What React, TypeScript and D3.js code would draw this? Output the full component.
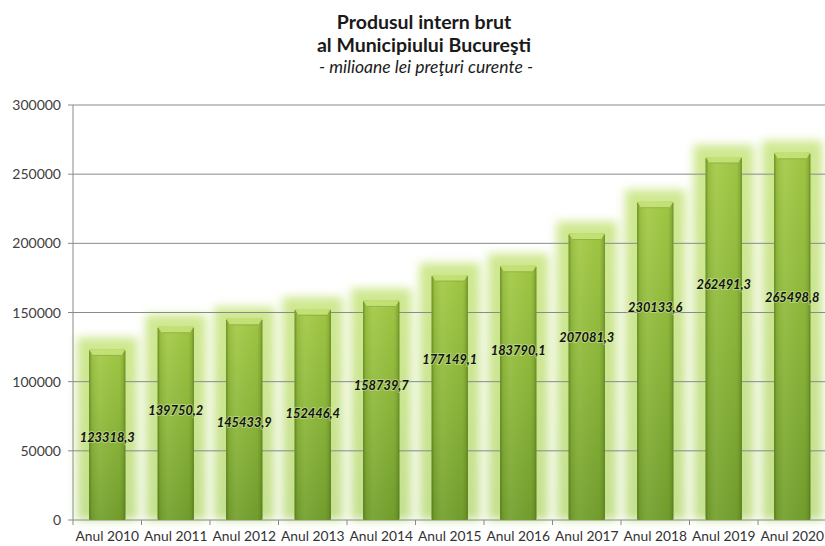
import React from "react";
import * as d3 from "d3";

const years = ["Anul 2010","Anul 2011","Anul 2012","Anul 2013","Anul 2014","Anul 2015","Anul 2016","Anul 2017","Anul 2018","Anul 2019","Anul 2020"];
const values = [123318.3,139750.2,145433.9,152446.4,158739.7,177149.1,183790.1,207081.3,230133.6,262491.3,265498.8];
const valueLabels = ["123318,3","139750,2","145433,9","152446,4","158739,7","177149,1","183790,1","207081,3","230133,6","262491,3","265498,8"];
// vertical anchor of each data label, in value units
const labelAt = [60000,79500,70800,77300,96900,115700,122200,131600,153300,169900,161200];
const yTicks = [0,50000,100000,150000,200000,250000,300000];
const titleLines = ["Produsul intern brut","al Municipiului Bucureşti"];
const subtitle = "- milioane lei preţuri curente -";

const W = 825, H = 546;
const FONT = "Lato, 'Open Sans', sans-serif";

export default function App() {
  const left = 73, right = 826.5, top = 105, bottom = 520;
  const x = d3.scaleBand<string>().domain(years).range([left, right]).paddingInner(0.47).paddingOuter(0.235);
  const band = d3.scaleBand<string>().domain(years).range([left, right]).padding(0);
  const y = d3.scaleLinear().domain([0, 300000]).range([bottom, top]);
  const bw = x.bandwidth();

  return (
    <svg width={W} height={H} style={{ position: "absolute", left: 0, top: 0, background: "#fff" }} fontFamily={FONT}>
      <defs>
        <filter id="glow" x="-50%" y="-20%" width="200%" height="140%">
          <feGaussianBlur stdDeviation="5" />
        </filter>
        <linearGradient id="barV" x1="0" y1="0" x2="0" y2="1">
          <stop offset="0" stopColor="#a4ca46" />
          <stop offset="0.5" stopColor="#8cb73a" />
          <stop offset="1" stopColor="#74a02e" />
        </linearGradient>
        <linearGradient id="barH" x1="0" y1="0" x2="1" y2="0">
          <stop offset="0" stopColor="#3d5a10" stopOpacity="0.55" />
          <stop offset="0.07" stopColor="#3d5a10" stopOpacity="0.12" />
          <stop offset="0.3" stopColor="#ffffff" stopOpacity="0.06" />
          <stop offset="0.85" stopColor="#3d5a10" stopOpacity="0.05" />
          <stop offset="0.94" stopColor="#3d5a10" stopOpacity="0.22" />
          <stop offset="1" stopColor="#3d5a10" stopOpacity="0.55" />
        </linearGradient>
        <linearGradient id="glowV" x1="0" y1="0" x2="0" y2="1">
          <stop offset="0" stopColor="#cfe890" />
          <stop offset="1" stopColor="#c4e08e" />
        </linearGradient>
      </defs>

      {/* title */}
      <g textAnchor="middle" fill="#1a1a1a">
        {titleLines.map((t, i) => (
          <text key={t} x={424} y={29 + i * 23} fontSize={19.5} fontWeight="bold">{t}</text>
        ))}
        <text x={426} y={73} fontSize={17.5} fontStyle="italic">{subtitle}</text>
      </g>

      {/* glow behind bars */}
      <g filter="url(#glow)">
        {years.map((yr, i) => (
          <rect key={yr} x={x(yr)! - 12} y={y(values[i]) - 12} width={bw + 24} height={bottom - y(values[i]) + 12} fill="url(#glowV)" />
        ))}
      </g>

      {/* gridlines */}
      <g>
        {yTicks.map((t) => (
          <line key={t} x1={left - 5} x2={W} y1={y(t)} y2={y(t)} stroke="#8a8a8a" strokeWidth={1} />
        ))}
        <line x1={left} x2={left} y1={top} y2={bottom} stroke="#8a8a8a" strokeWidth={1} />
      </g>

      {/* bars */}
      <g>
        {years.map((yr, i) => {
          const bx = x(yr)!, by = y(values[i]), bh = bottom - by;
          return (
            <g key={yr}>
              <rect x={bx} y={by} width={bw} height={bh} fill="url(#barV)" rx={1.5} />
              <rect x={bx} y={by} width={bw} height={bh} fill="url(#barH)" rx={1.5} />
              <path d={`M${bx},${by} L${bx + bw},${by} L${bx + bw - 4},${by + 6} L${bx + 4},${by + 6} Z`} fill="#c6e27a" opacity={0.9} />
              <path d={`M${bx + 4},${by + 6} L${bx + bw - 4},${by + 6}`} stroke="#6f952a" strokeOpacity={0.5} strokeWidth={1} />
            </g>
          );
        })}
      </g>

      {/* x ticks */}
      <g>
        {years.map((yr) => (
          <line key={yr} x1={band(yr)!} x2={band(yr)!} y1={bottom} y2={bottom + 5} stroke="#8a8a8a" />
        ))}
      </g>

      {/* y tick labels */}
      <g textAnchor="end" fill="#404040" fontSize={14}>
        {yTicks.map((t) => (
          <text key={t} x={61} y={y(t) + 5}>{t}</text>
        ))}
      </g>

      {/* x labels */}
      <g textAnchor="middle" fill="#333" fontSize={13.8}>
        {years.map((yr) => (
          <text key={yr} x={band(yr)! + band.bandwidth() / 2} y={541}>{yr}</text>
        ))}
      </g>

      {/* value labels */}
      <g textAnchor="middle" fontSize={12.8} fontWeight="bold" fontStyle="italic" fill="#111">
        {years.map((yr, i) => (
          <text key={yr} x={x(yr)! + bw / 2} y={y(labelAt[i]) + 4.5} stroke="#d8ecae" strokeWidth={2} strokeOpacity={0.5} paintOrder="stroke">{valueLabels[i]}</text>
        ))}
      </g>
    </svg>
  );
}
